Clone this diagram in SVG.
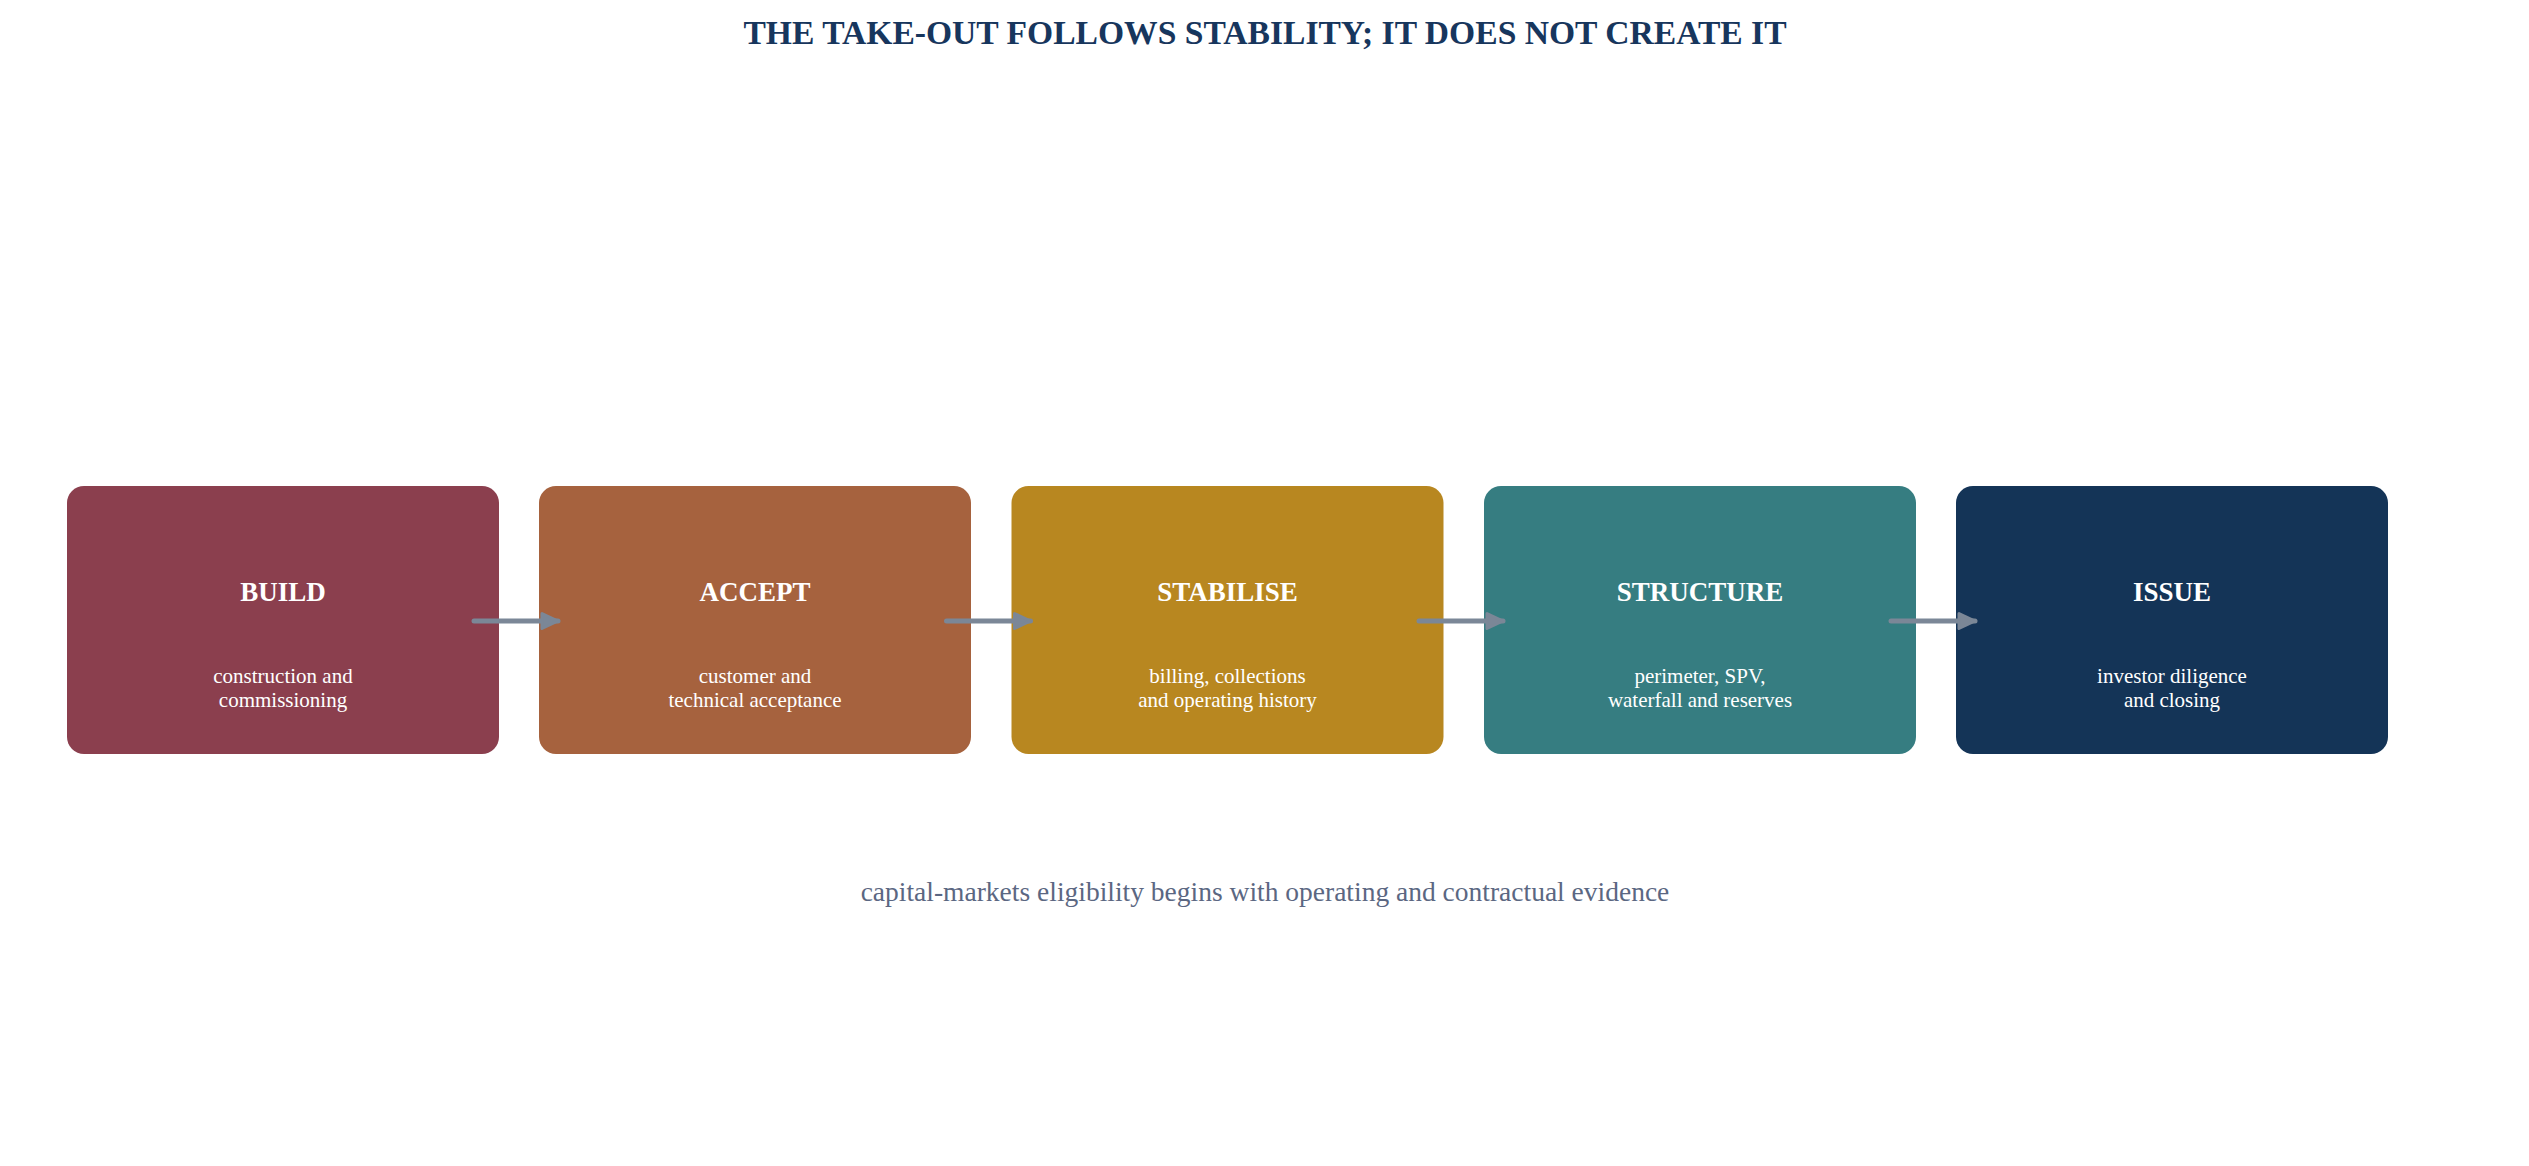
<svg xmlns="http://www.w3.org/2000/svg" width="2529" height="1166" viewBox="0 0 2529 1166">
<style>
.title{font-family:"Liberation Serif","Times New Roman",serif;font-weight:bold;font-size:33.6px;fill:#17365D;text-anchor:middle}
.nt{font-family:"Liberation Serif","Times New Roman",serif;font-weight:bold;font-size:27px;fill:#ffffff;text-anchor:middle}
.ns{font-family:"Liberation Serif","Times New Roman",serif;font-size:21px;fill:#ffffff;text-anchor:middle}
.foot{font-family:"Liberation Serif","Times New Roman",serif;font-size:27.5px;fill:#5B6782;text-anchor:middle}
.box{stroke:none}
.conn{stroke:#7B8797;stroke-width:5;stroke-linecap:round;fill:none}
</style>
<defs>
<marker id="ah" markerUnits="userSpaceOnUse" markerWidth="24" markerHeight="24" viewBox="0 0 24 24" refX="20" refY="12" orient="auto">
<path d="M4,4.5 L20,12 L4,19.5 Z" fill="#7B8797" stroke="#7B8797" stroke-width="3" stroke-linejoin="round"/>
</marker>
</defs>
<rect width="2529" height="1166" fill="#ffffff"/>
<text class="title" x="1265" y="44">THE TAKE-OUT FOLLOWS STABILITY; IT DOES NOT CREATE IT</text>
<g id="node-build">
<rect class="box" x="67" y="486" width="432" height="268" rx="17" fill="#8B3F4E"/>
<text class="nt" x="283" y="601">BUILD</text>
<text class="ns" x="283" y="683">construction and</text>
<text class="ns" x="283" y="707">commissioning</text>
</g>
<g id="node-accept">
<rect class="box" x="539" y="486" width="432" height="268" rx="17" fill="#A6623E"/>
<text class="nt" x="755" y="601">ACCEPT</text>
<text class="ns" x="755" y="683">customer and</text>
<text class="ns" x="755" y="707">technical acceptance</text>
</g>
<g id="node-stabilise">
<rect class="box" x="1011.5" y="486" width="432" height="268" rx="17" fill="#B88720"/>
<text class="nt" x="1227.5" y="601">STABILISE</text>
<text class="ns" x="1227.5" y="683">billing, collections</text>
<text class="ns" x="1227.5" y="707">and operating history</text>
</g>
<g id="node-structure">
<rect class="box" x="1484" y="486" width="432" height="268" rx="17" fill="#367D81"/>
<text class="nt" x="1700" y="601">STRUCTURE</text>
<text class="ns" x="1700" y="683">perimeter, SPV,</text>
<text class="ns" x="1700" y="707">waterfall and reserves</text>
</g>
<g id="node-issue">
<rect class="box" x="1956" y="486" width="432" height="268" rx="17" fill="#143457"/>
<text class="nt" x="2172" y="601">ISSUE</text>
<text class="ns" x="2172" y="683">investor diligence</text>
<text class="ns" x="2172" y="707">and closing</text>
</g>
<g id="connectors">
<line class="conn" x1="474" y1="621" x2="558" y2="621" marker-end="url(#ah)"/>
<line class="conn" x1="946.5" y1="621" x2="1030.5" y2="621" marker-end="url(#ah)"/>
<line class="conn" x1="1419" y1="621" x2="1503" y2="621" marker-end="url(#ah)"/>
<line class="conn" x1="1891" y1="621" x2="1975" y2="621" marker-end="url(#ah)"/>
</g>
<text class="foot" x="1265" y="901">capital-markets eligibility begins with operating and contractual evidence</text>
</svg>
